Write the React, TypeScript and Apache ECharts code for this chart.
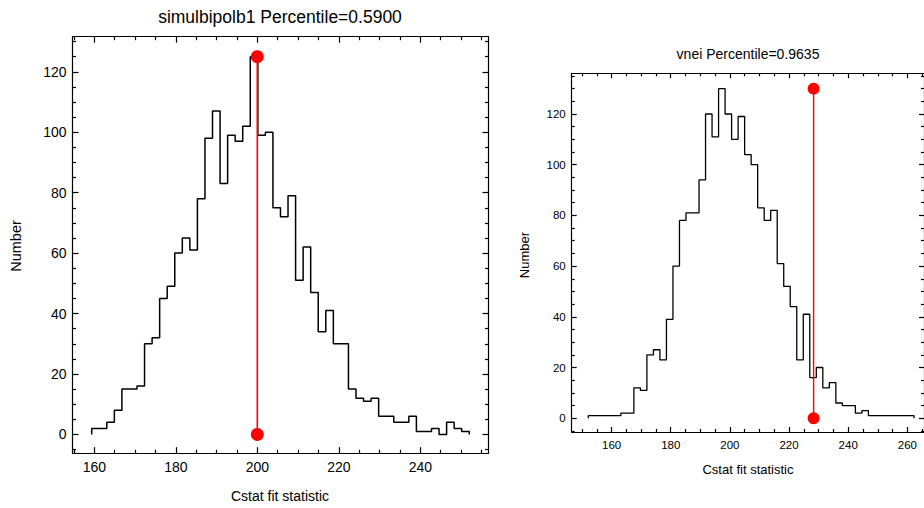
import React, { useEffect, useRef } from "react";
import * as echarts from "echarts";

// ---------- data ----------
const leftTitle = "simulbipolb1 Percentile=0.5900";
const rightTitle = "vnei Percentile=0.9635";
const xAxisName = "Cstat fit statistic";
const yAxisName = "Number";

const leftBinStart = 159.36;
const leftBinWidth = 1.853;
const leftCounts = [
  2, 2, 4, 8, 15, 15, 16, 30, 32, 45,
  49, 60, 65, 61, 78, 98, 107, 83, 99, 97,
  102, 125, 99, 100, 75, 72, 79, 51, 62, 47,
  34, 41, 30, 30, 15, 12, 11, 12, 6, 6,
  4, 4, 6, 1, 1, 2, 0, 4, 2, 1,
];
const leftMarkerX = 200;
const leftMarkerTop = 125;

const rightBinStart = 152.11;
const rightBinWidth = 2.203;
const rightCounts = [
  1, 1, 1, 1, 1, 2, 2, 12, 11, 25,
  27, 23, 39, 60, 78, 81, 81, 94, 120, 111,
  130, 120, 110, 119, 104, 100, 83, 78, 82, 61,
  52, 44, 23, 41, 16, 20, 12, 14, 6, 5,
  5, 2, 3, 1, 1, 1, 1, 1, 1, 1,
];
const rightMarkerX = 228.3;
const rightMarkerTop = 130;

const leftXRange = [154.65, 256.73];
const leftYRange = [-6.2, 131.6];
const rightXRange = [146.51, 265.63];
const rightYRange = [-5.44, 136.05];

const leftXTicks = [160, 180, 200, 220, 240];
const leftYTicks = [0, 20, 40, 60, 80, 100, 120];
const rightXTicks = [160, 180, 200, 220, 240, 260];
const rightYTicks = [0, 20, 40, 60, 80, 100, 120];
const minorStep = 5;

// ---------- helpers ----------
const FONT = "'Liberation Sans', Arial, Helvetica, sans-serif";

function minorValues(range: number[], majors: number[]) {
  const out: number[] = [];
  const start = Math.ceil(range[0] / minorStep) * minorStep;
  for (let v = start; v <= range[1]; v += minorStep) {
    if (!majors.includes(v)) out.push(v);
  }
  return out;
}

function stepPoints(start: number, width: number, counts: number[]) {
  const pts: number[][] = [[start, 0]];
  counts.forEach((c, i) => {
    pts.push([start + i * width, c]);
    pts.push([start + (i + 1) * width, c]);
  });
  pts.push([start + counts.length * width, 0]);
  return pts;
}

function boxAxes(
  dim: "x" | "y",
  grid: number,
  range: number[],
  majors: number[],
  fontSize: number,
  majorLen: number,
  minorLen: number,
  margin: number
) {
  const minors = minorValues(range, majors);
  const base = {
    type: "value",
    gridIndex: grid,
    min: range[0],
    max: range[1],
    splitLine: { show: false },
  };
  const posA = dim === "x" ? "bottom" : "left";
  const posB = dim === "x" ? "top" : "right";
  const line = { show: true, onZero: false, lineStyle: { color: "#000", width: 1.2 } };
  const tickStyle = { color: "#000", width: 1.2 };
  return [
    {
      ...base,
      position: posA,
      axisLine: line,
      axisTick: { show: true, inside: true, length: majorLen, customValues: majors, lineStyle: tickStyle },
      axisLabel: {
        show: true,
        customValues: majors,
        fontSize,
        color: "#000",
        margin,
        fontFamily: FONT,
        formatter: (v: number) => String(Math.round(v)),
      },
    },
    {
      ...base,
      position: posA,
      axisLine: { show: false, onZero: false },
      axisTick: { show: true, inside: true, length: minorLen, customValues: minors, lineStyle: tickStyle },
      axisLabel: { show: false },
    },
    {
      ...base,
      position: posB,
      axisLine: line,
      axisTick: { show: true, inside: true, length: majorLen, customValues: majors, lineStyle: tickStyle },
      axisLabel: { show: false },
    },
    {
      ...base,
      position: posB,
      axisLine: { show: false, onZero: false },
      axisTick: { show: true, inside: true, length: minorLen, customValues: minors, lineStyle: tickStyle },
      axisLabel: { show: false },
    },
  ];
}

export default function App() {
  const ref = useRef<HTMLDivElement>(null);

  useEffect(() => {
    if (!ref.current) return;
    const chart = echarts.init(ref.current, undefined, { renderer: "svg" });

    const option = {
      animation: false,
      backgroundColor: "#fff",
      grid: [
        { left: 72.5, top: 36.7, width: 416, height: 416.5 },
        { left: 571.7, top: 73.3, width: 353.3, height: 358.7 },
      ],
      xAxis: [
        ...boxAxes("x", 0, leftXRange, leftXTicks, 14, 6, 3.5, 7),
        ...boxAxes("x", 1, rightXRange, rightXTicks, 11.5, 5, 3, 7),
      ],
      yAxis: [
        ...boxAxes("y", 0, leftYRange, leftYTicks, 14, 6, 3.5, 6),
        ...boxAxes("y", 1, rightYRange, rightYTicks, 11.5, 5, 3, 6),
      ],
      graphic: [
        { type: "text", x: 280, y: 17, style: { text: leftTitle, align: "center", verticalAlign: "middle", font: `17.5px ${FONT}`, fill: "#000" } },
        { type: "text", x: 748, y: 54, style: { text: rightTitle, align: "center", verticalAlign: "middle", font: `14px ${FONT}`, fill: "#000" } },
        { type: "text", x: 280, y: 496, style: { text: xAxisName, align: "center", verticalAlign: "middle", font: `14px ${FONT}`, fill: "#000" } },
        { type: "text", x: 748, y: 469, style: { text: xAxisName, align: "center", verticalAlign: "middle", font: `13px ${FONT}`, fill: "#000" } },
        { type: "text", x: 16, y: 246, rotation: Math.PI / 2, style: { text: yAxisName, align: "center", verticalAlign: "middle", font: `14.5px ${FONT}`, fill: "#000" } },
        { type: "text", x: 524, y: 255, rotation: Math.PI / 2, style: { text: yAxisName, align: "center", verticalAlign: "middle", font: `13px ${FONT}`, fill: "#000" } },
      ],
      series: [
        {
          type: "line",
          xAxisIndex: 0,
          yAxisIndex: 0,
          data: stepPoints(leftBinStart, leftBinWidth, leftCounts),
          showSymbol: false,
          symbol: "none",
          lineStyle: { color: "#000", width: 1.5 },
          silent: true,
        },
        {
          type: "line",
          xAxisIndex: 0,
          yAxisIndex: 0,
          data: [
            [leftMarkerX, 0],
            [leftMarkerX, leftMarkerTop],
          ],
          symbol: "circle",
          symbolSize: 13,
          itemStyle: { color: "#ff0000" },
          lineStyle: { color: "#ff0000", width: 1.6 },
          silent: true,
        },
        {
          type: "line",
          xAxisIndex: 4,
          yAxisIndex: 4,
          data: stepPoints(rightBinStart, rightBinWidth, rightCounts),
          showSymbol: false,
          symbol: "none",
          lineStyle: { color: "#000", width: 1.3 },
          silent: true,
        },
        {
          type: "line",
          xAxisIndex: 4,
          yAxisIndex: 4,
          data: [
            [rightMarkerX, 0],
            [rightMarkerX, rightMarkerTop],
          ],
          symbol: "circle",
          symbolSize: 12,
          itemStyle: { color: "#ff0000" },
          lineStyle: { color: "#ff0000", width: 1.4 },
          silent: true,
        },
      ],
    };

    chart.setOption(option as any);
    return () => chart.dispose();
  }, []);

  return (
    <div
      ref={ref}
      style={{ position: "absolute", left: 0, top: 0, width: 924, height: 508, background: "#fff" }}
    />
  );
}
